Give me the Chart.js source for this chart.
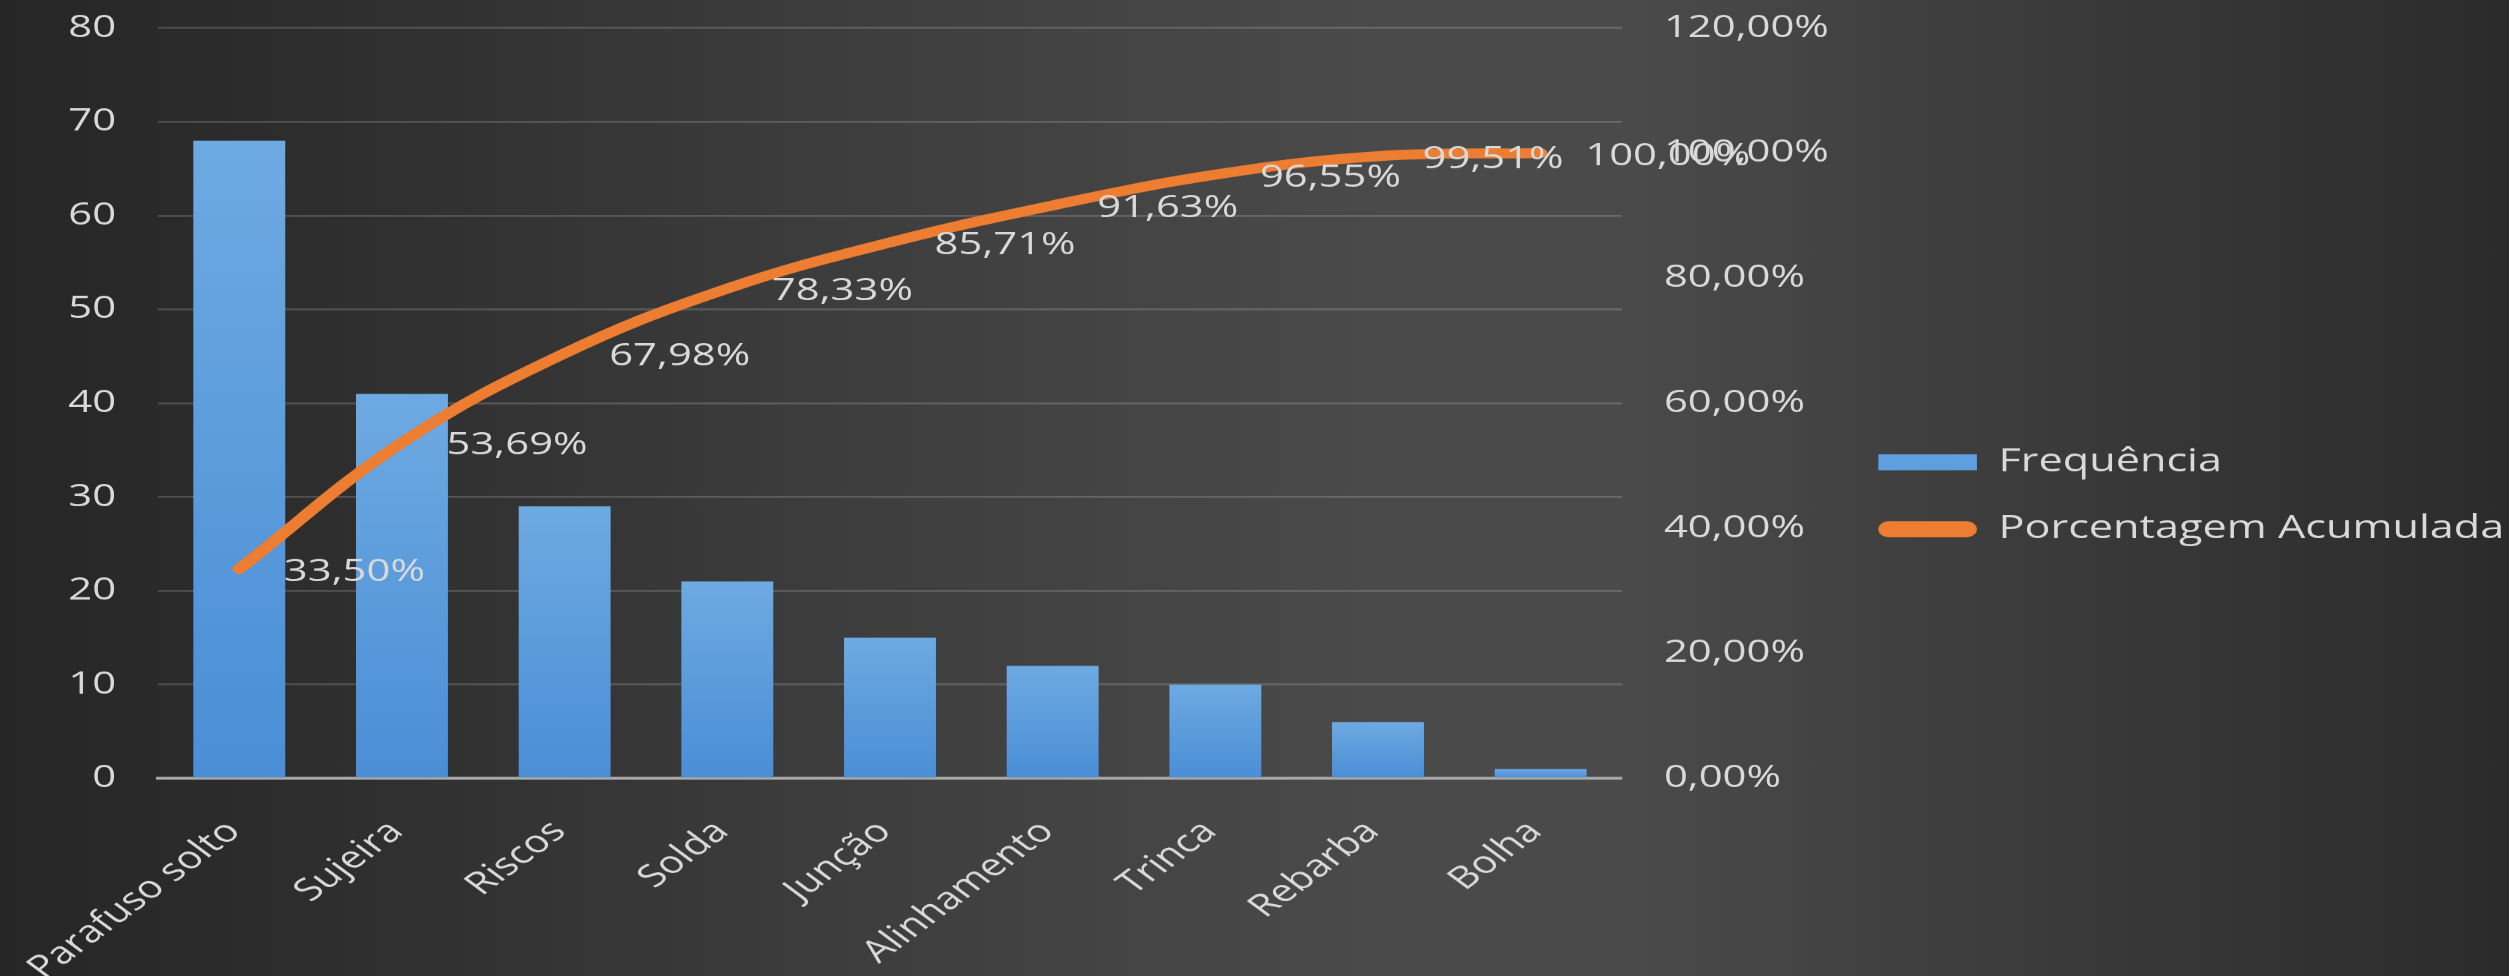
<!DOCTYPE html>
<html>
<head>
<meta charset="utf-8">
<script src="https://cdn.jsdelivr.net/npm/chart.js@4.4.1/dist/chart.umd.min.js"></script>
<style>
  html, body { margin: 0; padding: 0; }
  body {
    width: 2509px; height: 976px; overflow: hidden;
    background: linear-gradient(90deg, #262626 0%, #2f2f2f 15%, #3e3e3e 35%, #4a4a4a 55%, #4a4a4a 65%, #3a3a3a 82%, #2b2b2b 100%);
  }
</style>
</head>
<body>
<canvas id="c" width="1859" height="976" style="display:block;width:2509px;height:976px;"></canvas>
<script>
// ---- data ----
const categories = ['Parafuso solto', 'Sujeira', 'Riscos', 'Solda', 'Junção', 'Alinhamento', 'Trinca', 'Rebarba', 'Bolha'];
const frequencia = [68, 41, 29, 21, 15, 12, 10, 6, 1];
const acumulada = [0.3350, 0.5369, 0.6798, 0.7833, 0.8571, 0.9163, 0.9655, 0.9951, 1.0000];
const leftAxis = { min: 0, max: 80, step: 10 };
const rightAxis = { min: 0, max: 1.2, step: 0.2 };
const seriesNames = ['Frequência', 'Porcentagem Acumulada'];

// ---- layout constants (canvas is drawn narrower and stretched horizontally) ----
const W = 1859;
const PAD_R = -6;
const PLOT_LEFT = 117;
const PLOT_RIGHT = 1201.5;
const X_AXIS_H = 198;
const TEXT = '#d9d9d9';
const FONT = "'Open Sans', 'Noto Sans', sans-serif";

const fmtPct = v => (v * 100).toFixed(2).replace('.', ',') + '%';

const dataLabels = {
  id: 'dataLabels',
  afterDatasetsDraw(chart) {
    const meta = chart.getDatasetMeta(1);
    const ctx = chart.ctx;
    ctx.save();
    ctx.font = "31px " + FONT;
    ctx.fillStyle = TEXT;
    ctx.textAlign = 'left';
    ctx.textBaseline = 'middle';
    meta.data.forEach((pt, i) => {
      ctx.fillText(fmtPct(acumulada[i]), pt.x + 33, pt.y + 3);
    });
    ctx.restore();
  }
};

const noVPad = (s) => { s.paddingTop = 0; s.paddingBottom = 0; };

new Chart(document.getElementById('c'), {
  data: {
    labels: categories,
    datasets: [
      {
        type: 'bar',
        label: seriesNames[0],
        data: frequencia,
        yAxisID: 'y',
        order: 1,
        barPercentage: 0.565,
        categoryPercentage: 1,
        backgroundColor: (c) => {
          const chart = c.chart;
          const ys = chart.scales && chart.scales.y;
          if (!ys || c.parsed === undefined || c.type !== 'data') return '#5b9bd5';
          const top = ys.getPixelForValue(c.parsed.y);
          const bot = ys.getPixelForValue(0);
          if (!isFinite(top) || !isFinite(bot) || bot - top < 1) return '#5b9bd5';
          const g = chart.ctx.createLinearGradient(0, top, 0, bot);
          g.addColorStop(0, '#6eaae2');
          g.addColorStop(1, '#4a8ed6');
          return g;
        },
        borderWidth: 0
      },
      {
        type: 'line',
        label: seriesNames[1],
        data: acumulada,
        yAxisID: 'y1',
        order: 0,
        borderColor: '#ED7D31',
        backgroundColor: '#ED7D31',
        borderWidth: 10,
        borderCapStyle: 'round',
        borderJoinStyle: 'round',
        pointRadius: 0,
        tension: 0.4,
        fill: false
      }
    ]
  },
  options: {
    responsive: false,
    animation: false,
    devicePixelRatio: 1.35,
    layout: { padding: { top: 28, left: 0, right: PAD_R, bottom: 0 } },
    plugins: {
      tooltip: { enabled: false },
      legend: {
        position: 'right',
        align: 'start',
        maxWidth: 700,
        title: { display: true, text: '', font: { size: 10, lineHeight: 1 }, padding: { top: 373, bottom: 0 } },
        labels: {
          color: TEXT,
          font: { family: FONT, size: 32 },
          boxWidth: 73,
          boxHeight: 16,
          padding: 35,
          useBorderRadius: true,
          generateLabels: (chart) => {
            return chart.data.datasets.map((ds, i) => ({
              text: ds.label,
              datasetIndex: i,
              fillStyle: i === 0 ? '#5e9fe0' : '#ED7D31',
              strokeStyle: 'rgba(0,0,0,0)',
              lineWidth: 0,
              borderRadius: i === 0 ? 0 : 8,
              fontColor: TEXT,
              hidden: false
            }));
          }
        }
      }
    },
    scales: {
      x: {
        type: 'category',
        grid: { display: false },
        border: { display: true, color: '#a8a8a8', width: 3 },
        ticks: {
          color: TEXT,
          font: { family: FONT, size: 31 },
          minRotation: 45,
          maxRotation: 45,
          autoSkip: false,
          padding: 27,
          labelOffset: -4
        },
        afterFit: (s) => { s.height = X_AXIS_H; s.paddingLeft = 0; s.paddingRight = 0; }
      },
      y: {
        position: 'left',
        min: leftAxis.min,
        max: leftAxis.max,
        ticks: {
          stepSize: leftAxis.step,
          color: TEXT,
          font: { family: FONT, size: 31 },
          padding: 31
        },
        grid: { color: 'rgba(255,255,255,0.17)', lineWidth: 2, drawTicks: false },
        border: { display: false },
        afterFit: (s) => { s.width = PLOT_LEFT; noVPad(s); }
      },
      y1: {
        position: 'right',
        min: rightAxis.min,
        max: rightAxis.max,
        ticks: {
          stepSize: rightAxis.step,
          color: TEXT,
          font: { family: FONT, size: 31 },
          padding: 31,
          callback: (v) => fmtPct(v)
        },
        grid: { display: false, drawTicks: false },
        border: { display: false },
        afterFit: (s) => {
          const lw = (s.chart.legend && s.chart.legend.width) ? s.chart.legend.width : 0;
          s.width = W - PAD_R - PLOT_RIGHT - lw;
          noVPad(s);
        }
      }
    }
  },
  plugins: [dataLabels]
});
</script>
</body>
</html>
